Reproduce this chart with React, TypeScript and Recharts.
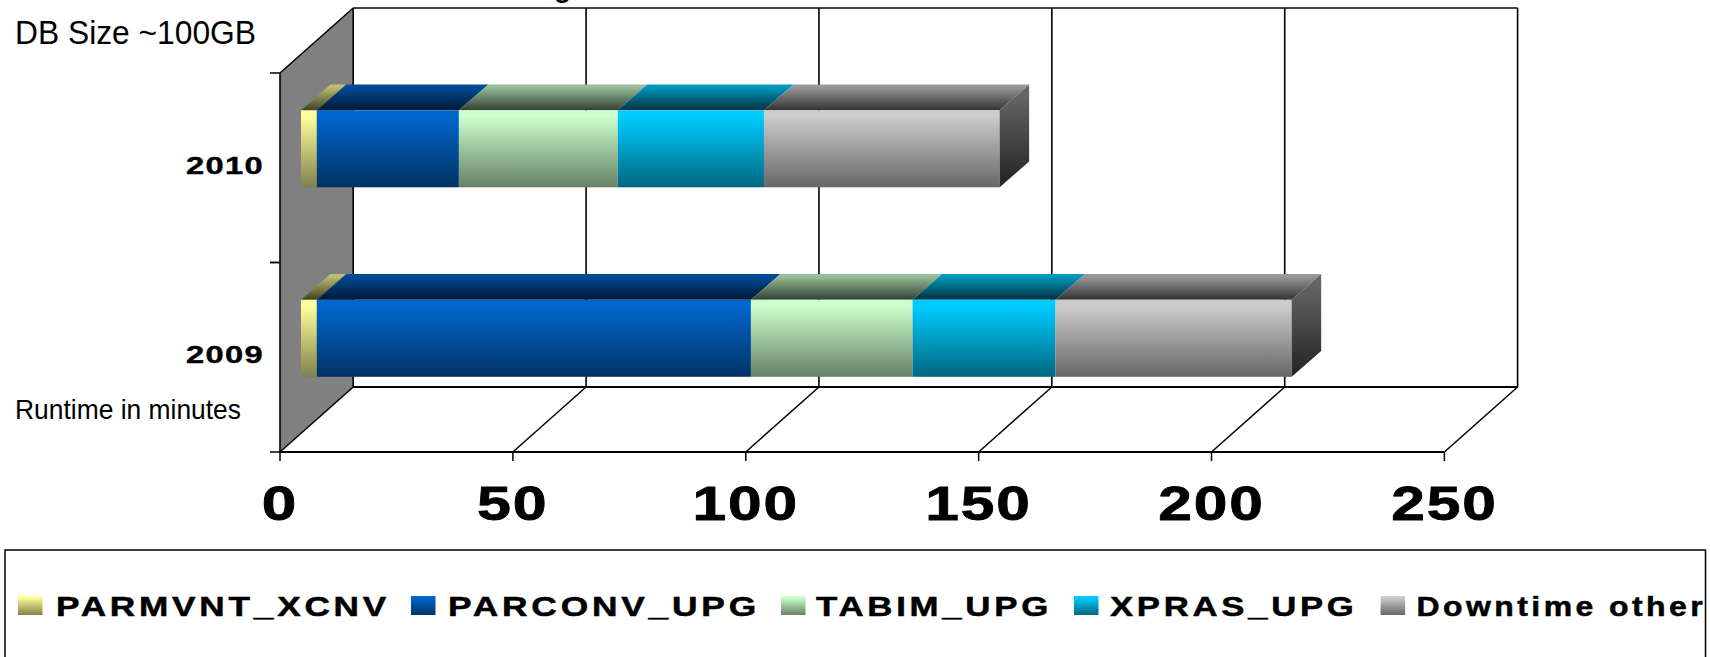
import { BarChart, Bar, XAxis, YAxis, CartesianGrid, Legend } from 'recharts';

const categories = ['2010', '2009'];
const seriesNames = ['PARMVNT_XCNV', 'PARCONV_UPG', 'TABIM_UPG', 'XPRAS_UPG', 'Downtime other'];
const parmvnt = [3.4, 3.4];
const parconv = [30.5, 93.2];
const tabim = [34.1, 34.7];
const xpras = [31.4, 30.7];
const downtime = [50.6, 50.7];
const xTicks = [0, 50, 100, 150, 200, 250];

const seriesValues = [parmvnt, parconv, tabim, xpras, downtime];
const chartData = categories.map((year, i) => {
  const row: Record<string, any> = { year };
  seriesNames.forEach((name, s) => {
    row[name] = seriesValues[s][i];
  });
  return row;
});

// front, front shade, top light, top dark
const palette = [
  ['#ffff99', '#80804d', '#bfbf73', '#404026'],
  ['#0066cc', '#003366', '#004c99', '#001933'],
  ['#ccffcc', '#668066', '#99bf99', '#334033'],
  ['#00ccff', '#006680', '#0099bf', '#003340'],
  ['#cccccc', '#666666', '#999999', '#333333'],
];

// the floor and walls of the fake 3D box
const DEPTH_X = 73.2;
const DEPTH_Y = 65;
// bars sit in the middle of the box and have their own smaller depth
const BAR_SHIFT_X = 21;
const BAR_SHIFT_Y = -18.7;
const BAR_DEPTH_X = 29.5;
const BAR_DEPTH_Y = 25.7;

const Grad = ({ id, from, to }: { id: string; from: string; to: string }) => (
  <linearGradient id={id} x1="0" y1="0" x2="0" y2="1">
    <stop offset="8%" stopColor={from} />
    <stop offset="100%" stopColor={to} />
  </linearGradient>
);

const Box3D = (props: any) => {
  const { x, y, width, height, seriesIndex } = props;
  const left = x + BAR_SHIFT_X;
  const top = y + BAR_SHIFT_Y;
  const right = left + width;
  const topFace = `${left},${top} ${right},${top} ${right + BAR_DEPTH_X},${top - BAR_DEPTH_Y} ${left + BAR_DEPTH_X},${top - BAR_DEPTH_Y}`;
  const sideFace = `${right},${top} ${right + BAR_DEPTH_X},${top - BAR_DEPTH_Y} ${right + BAR_DEPTH_X},${top + height - BAR_DEPTH_Y} ${right},${top + height}`;
  return (
    <g>
      <polygon points={topFace} fill={`url(#top-${seriesIndex})`} />
      <rect x={left} y={top} width={width} height={height} fill={`url(#front-${seriesIndex})`} />
      {seriesIndex === seriesNames.length - 1 && <polygon points={sideFace} fill="url(#side)" />}
    </g>
  );
};

const GridLine = (props: any) => {
  const { x1, y1, y2, index, x, width } = props;
  const backX = x1 + DEPTH_X;
  return (
    <g key={`grid-${index}`}>
      {index === 0 && (
        <>
          <polygon
            points={`${x1},${y1} ${backX},${y1 - DEPTH_Y} ${backX},${y2 - DEPTH_Y} ${x1},${y2}`}
            fill="#808080"
          />
          <line x1={x1} y1={y1} x2={backX} y2={y1 - DEPTH_Y} stroke="#000" strokeWidth={1.5} />
          <line x1={x + DEPTH_X} y1={y1 - DEPTH_Y} x2={x + width + DEPTH_X} y2={y1 - DEPTH_Y} stroke="#444" strokeWidth={2} />
          <line x1={x + DEPTH_X} y1={y2 - DEPTH_Y} x2={x + width + DEPTH_X} y2={y2 - DEPTH_Y} stroke="#000" strokeWidth={2} />
        </>
      )}
      <line x1={x1} y1={y2} x2={backX} y2={y2 - DEPTH_Y} stroke="#000" strokeWidth={1.5} />
      <line x1={backX} y1={y2 - DEPTH_Y} x2={backX} y2={y1 - DEPTH_Y} stroke="#000" strokeWidth={1.6} />
    </g>
  );
};

const XTick = ({ x, y, payload }: any) => {
  const label = String(payload.value);
  return (
    <text
      x={x}
      y={y + 59}
      textAnchor="middle"
      fontFamily="Liberation Sans"
      fontWeight="bold"
      fontSize={49}
      letterSpacing={1.5}
      stroke="#000"
      strokeWidth={0.8}
      textLength={35 * label.length + 1.5}
      lengthAdjust="spacingAndGlyphs"
      fill="#000"
    >
      {label}
    </text>
  );
};

const YTick = ({ x, y, payload }: any) => {
  const halfBand = 94.75;
  return (
    <g>
      <line x1={270} y1={y - halfBand} x2={280} y2={y - halfBand} stroke="#000" strokeWidth={1.5} />
      <line x1={270} y1={y + halfBand} x2={280} y2={y + halfBand} stroke="#000" strokeWidth={1.5} />
      <text
        x={225}
        y={y + 6}
        textAnchor="middle"
        fontFamily="Liberation Sans"
        fontWeight="bold"
        fontSize={24.5}
        letterSpacing={1}
        stroke="#000"
        strokeWidth={0.4}
        textLength={78}
        lengthAdjust="spacingAndGlyphs"
        fill="#000"
      >
        {payload.value}
      </text>
    </g>
  );
};

// swatch start, text start, text end for each legend entry
const legendSlots = [
  [18, 56, 387],
  [411, 448, 757],
  [781, 816, 1049],
  [1074, 1110, 1354.5],
  [1380.6, 1416.6, 1703],
];

const BoxLegend = ({ payload }: any) => (
  <svg width={1710} height={108} style={{ display: 'block' }}>
    <rect x={5} y={1} width={1700.5} height={130} fill="#fff" stroke="#000" strokeWidth={1.5} />
    {(payload || []).map((item: any, i: number) => (
      <g key={item.value}>
        <rect x={legendSlots[i][0]} y={47} width={24.5} height={19} fill={`url(#front-${i})`} />
        <text
          x={legendSlots[i][1]}
          y={67}
          fontFamily="Liberation Sans"
          fontWeight="bold"
          fontSize={28}
          letterSpacing={3}
          stroke="#000"
          strokeWidth={0.5}
          textLength={legendSlots[i][2] - legendSlots[i][1] + 3}
          lengthAdjust="spacingAndGlyphs"
          fill="#000"
        >
          {item.value}
        </text>
      </g>
    ))}
  </svg>
);

const App = () => {
  return (
    <div style={{ position: 'absolute', left: 0, top: 0, width: 1710, height: 657, background: '#fff' }}>
      <BarChart
        width={1710}
        height={657}
        data={chartData}
        layout="vertical"
        margin={{ top: 73, right: 265.6, bottom: 0, left: 0 }}
      >
        <defs>
          {palette.map((c, i) => (
            <Grad key={`front-${i}`} id={`front-${i}`} from={c[0]} to={c[1]} />
          ))}
          {palette.map((c, i) => (
            <Grad key={`top-${i}`} id={`top-${i}`} from={c[2]} to={c[3]} />
          ))}
          <Grad id="side" from="#666666" to="#222222" />
        </defs>
        <CartesianGrid horizontal={false} vertical={(p: any) => <GridLine {...p} />} />
        <XAxis
          type="number"
          domain={[0, 250]}
          ticks={xTicks}
          height={97}
          interval={0}
          tickSize={9}
          tickMargin={0}
          tick={<XTick />}
          stroke="#000"
          axisLine={{ stroke: '#000', strokeWidth: 2 }}
          tickLine={{ stroke: '#000', strokeWidth: 1.5 }}
        />
        <YAxis
          type="category"
          dataKey="year"
          width={280}
          tickLine={false}
          tick={<YTick />}
          axisLine={{ stroke: '#000', strokeWidth: 1.6 }}
        />
        {seriesNames.map((name, i) => (
          <Bar
            key={name}
            dataKey={name}
            stackId="a"
            barSize={77}
            fill={palette[i][0]}
            isAnimationActive={false}
            shape={(p: any) => <Box3D {...p} seriesIndex={i} />}
          />
        ))}
        <Legend
          content={<BoxLegend />}
          itemSorter={null}
          height={108}
          wrapperStyle={{ left: 0, bottom: 0, width: 1710, height: 108 }}
        />
        <text x={554} y={-3} fontFamily="Liberation Sans" fontWeight="bold" fontSize={28} fill="#000">
          g
        </text>
        <text x={15} y={44} fontFamily="Liberation Sans" fontSize={34} textLength={241} lengthAdjust="spacingAndGlyphs" fill="#000">
          DB Size ~100GB
        </text>
        <text x={15} y={419} fontFamily="Liberation Sans" fontSize={28} textLength={226} lengthAdjust="spacingAndGlyphs" fill="#000">
          Runtime in minutes
        </text>
      </BarChart>
    </div>
  );
};

export default App;
